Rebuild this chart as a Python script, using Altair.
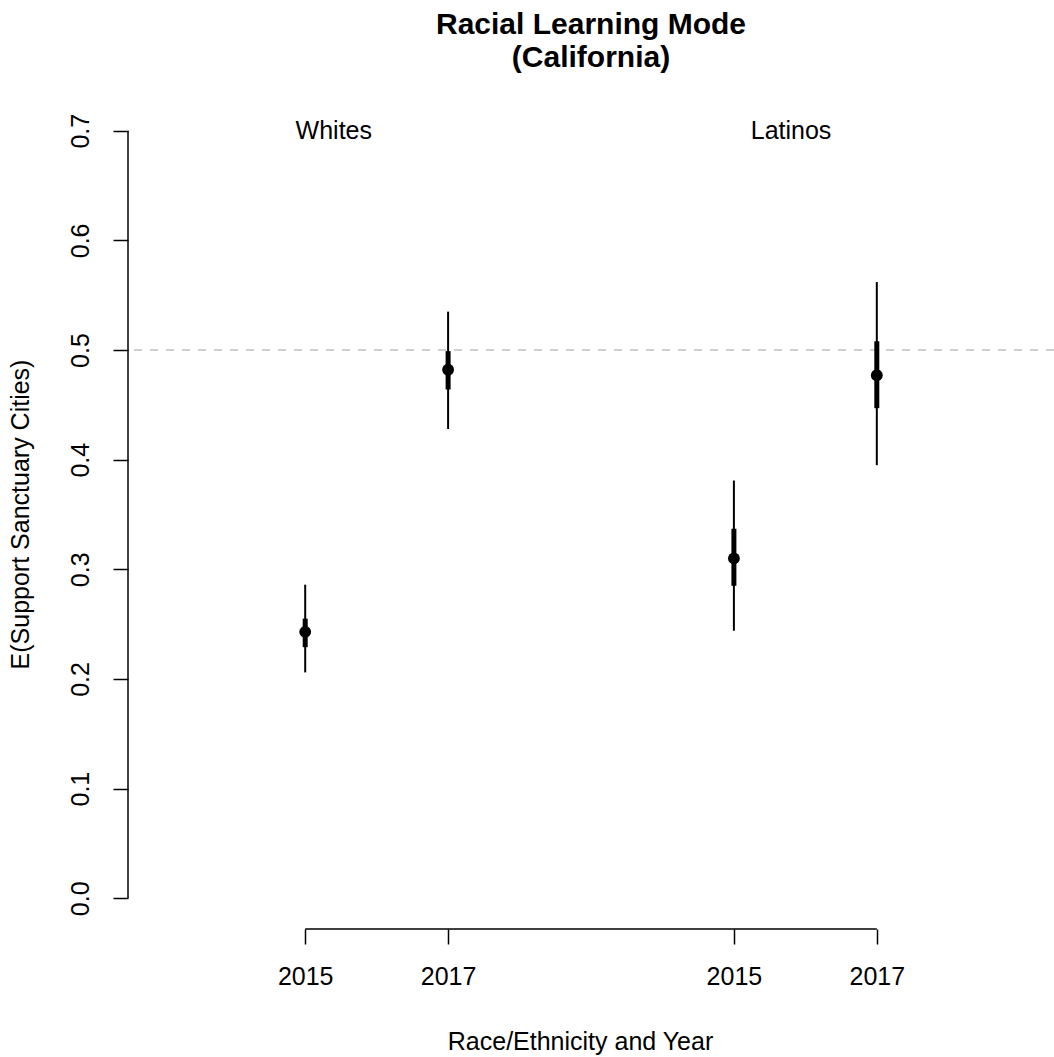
import altair as alt
import pandas as pd

# ---- data ----
positions = [1, 2, 4, 5]
years = ["2015", "2017", "2015", "2017"]
estimate = [0.243, 0.482, 0.310, 0.477]
lo_outer = [0.206, 0.428, 0.244, 0.395]
hi_outer = [0.286, 0.535, 0.381, 0.562]
lo_inner = [0.229, 0.464, 0.285, 0.447]
hi_inner = [0.255, 0.499, 0.337, 0.508]

group_names = ["Whites", "Latinos"]
group_x = [1.2, 4.4]
group_y = [0.7, 0.7]

y_ticks = [0.0, 0.1, 0.2, 0.3, 0.4, 0.5, 0.6, 0.7]
ref_line = [0.5]

FONT = "Liberation Sans"

df = pd.DataFrame({
    "pos": positions, "year": years, "est": estimate,
    "lo95": lo_outer, "hi95": hi_outer, "lo50": lo_inner, "hi50": hi_inner,
})
gdf = pd.DataFrame({"pos": group_x, "est": group_y, "name": group_names})
rdf = pd.DataFrame({"est": ref_line})

xscale = alt.Scale(domain=[-0.24, 6.24], nice=False, zero=False)
yscale = alt.Scale(domain=[-0.028, 0.728], nice=False, zero=False)

label_expr = " : ".join(
    f"datum.value == {p} ? '{y}'" for p, y in zip(positions, years)
) + " : ''"

xaxis = alt.Axis(
    values=positions, labelExpr=label_expr, domain=False, grid=False,
    ticks=True, tickSize=15, tickWidth=1.5, tickColor="black",
    labelFont=FONT, labelFontSize=25, labelColor="black",
    labelBaseline="alphabetic", labelPadding=40, labelFlush=False, labelOverlap=False,
    title="Race/Ethnicity and Year", titleFont=FONT, titleFontSize=25,
    titleFontWeight="normal", titleColor="black",
    titleX=452, titleY=112, titleAlign="center", titleBaseline="middle",
)
yaxis = alt.Axis(
    values=y_ticks, format=".1f", domain=False, grid=False,
    ticks=True, tickSize=15, tickWidth=1.5, tickColor="black",
    labelFont=FONT, labelFontSize=25, labelColor="black",
    labelAngle=270, labelAlign="center", labelBaseline="alphabetic", labelPadding=25,
    labelFlush=False, labelOverlap=False,
    title="E(Support Sanctuary Cities)", titleFont=FONT, titleFontSize=25,
    titleFontWeight="normal", titleColor="black", titleAngle=270,
    titleX=-108, titleY=414, titleAlign="center", titleBaseline="middle",
)

X = lambda f: alt.X(f, type="quantitative", scale=xscale, axis=xaxis)
Y = lambda f: alt.Y(f, type="quantitative", scale=yscale, axis=yaxis)

ref = alt.Chart(rdf).mark_rule(color="#bebebe", strokeDash=[8, 8], strokeWidth=1.5).encode(
    y=Y("est")
)
thin = alt.Chart(df).mark_rule(color="black", strokeWidth=2).encode(
    x=X("pos"), y=Y("lo95"), y2="hi95"
)
thick = alt.Chart(df).mark_rule(color="black", strokeWidth=5).encode(
    x=X("pos"), y=Y("lo50"), y2="hi50"
)
pts = alt.Chart(df).mark_circle(color="black", opacity=1, size=140).encode(
    x=X("pos"), y=Y("est")
)
labels = alt.Chart(gdf).mark_text(
    font=FONT, fontSize=25, color="black", align="center", baseline="middle"
).encode(x=X("pos"), y=Y("est"), text="name:N")

yline = alt.Chart(rdf).mark_rule(color="black", strokeWidth=1.5).encode(
    x=alt.value(0),
    y=alt.Y(datum=y_ticks[0], type="quantitative", scale=yscale, axis=yaxis),
    y2=alt.Y2(datum=y_ticks[-1]),
)
xline = alt.Chart(rdf).mark_rule(color="black", strokeWidth=1.5).encode(
    y=alt.value(829),
    x=alt.X(datum=positions[0], type="quantitative", scale=xscale, axis=xaxis),
    x2=alt.X2(datum=positions[-1]),
)

chart = alt.layer(ref, thin, thick, pts, labels, yline, xline).properties(
    width=926, height=829,
    background="white",
    title=alt.TitleParams(
        ["Racial Learning Mode", "(California)"], font=FONT, fontSize=30,
        fontWeight="bold", color="black", anchor="middle", lineHeight=33, offset=27,
    ),
    autosize=alt.AutoSizeParams(type="none"),
    padding={"left": 128, "top": 100, "right": 0, "bottom": 128},
).configure_view(stroke="transparent", strokeWidth=0)

chart.save("out.html", embed_options={"renderer": "svg", "actions": False})
